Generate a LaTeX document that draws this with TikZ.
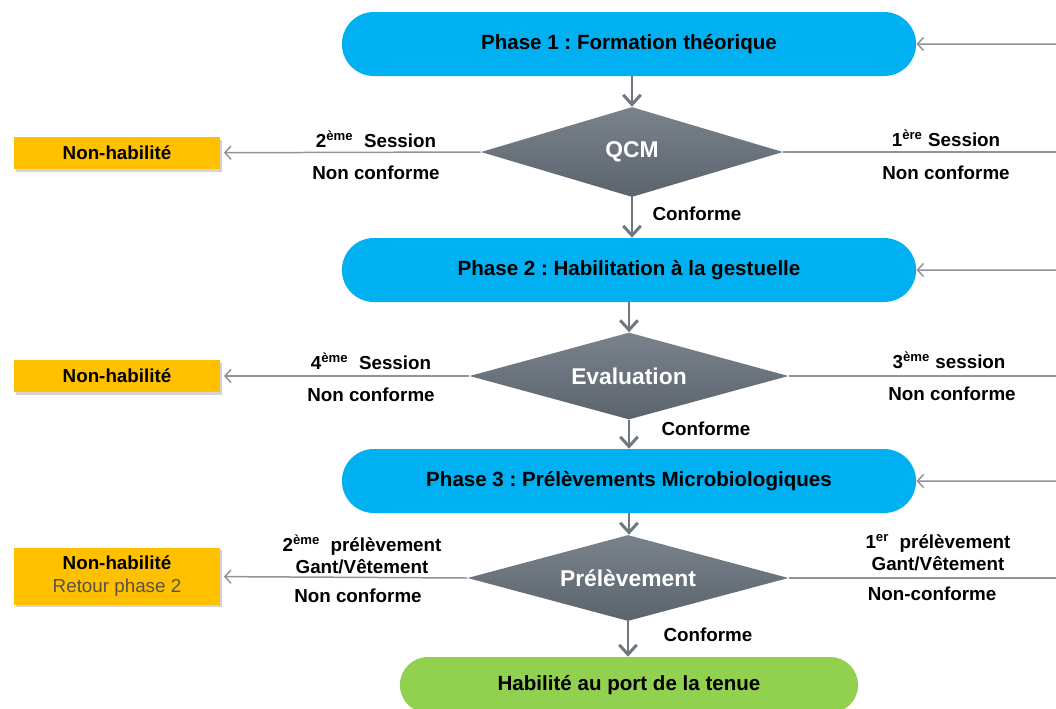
\documentclass[tikz,border=0pt]{standalone}
\usepackage{fontspec}
\setmainfont{Liberation Sans}
\frenchspacing
\usetikzlibrary{shapes.geometric,shapes.misc,arrows.meta,shadows}
\definecolor{phaseblue}{HTML}{00B0F0}
\definecolor{okgreen}{HTML}{92D050}
\definecolor{failorange}{HTML}{FFC000}
\definecolor{diamtop}{HTML}{7A828B}
\definecolor{diambot}{HTML}{5B636C}
\definecolor{arrowgray}{HTML}{6E7883}
\definecolor{linegray}{HTML}{8E949A}
\definecolor{retourgray}{HTML}{5A5242}
\begin{document}
\begin{tikzpicture}[x=0.02cm,y=-0.02cm,
    phasebox/.style={rounded rectangle,fill=phaseblue,minimum width=11.72cm,minimum height=1.28cm,
        font=\fontsize{11.7}{14}\selectfont\bfseries},
    endbox/.style={rounded rectangle,fill=okgreen,minimum width=9.4cm,minimum height=1.12cm,
        font=\fontsize{11.7}{14}\selectfont\bfseries},
    decision/.style={diamond,aspect=3.6,inner sep=0pt,top color=diamtop,bottom color=diambot,text=white,
        font=\fontsize{13}{15}\selectfont\bfseries},
    failbox/.style={rectangle,fill=failorange,minimum width=4.12cm,minimum height=0.64cm,align=center,
        drop shadow={opacity=0.35,shadow xshift=1pt,shadow yshift=-1.5pt},
        font=\fontsize{10.7}{13}\selectfont\bfseries},
    sidelabel/.style={align=center,inner sep=0pt,font=\fontsize{10.7}{12.5}\selectfont\bfseries},
    flowarrow/.style={arrowgray,line width=1.7pt,-{Straight Barb[length=5.5pt,width=10pt]}},
    sidearrow/.style={linegray,line width=0.85pt,-{Straight Barb[length=3.5pt,width=7.5pt]}},
    sideline/.style={linegray,line width=0.85pt}]
    \clip (0,0) rectangle (1056,708);

    \node[phasebox] (phase1) at (629,44) {Phase 1 : Formation théorique};
    \node[decision,minimum width=6.04cm,minimum height=1.8cm] (qcm) at (632,152) {QCM};
    \node[phasebox] (phase2) at (629,270) {Phase 2 : Habilitation à la gestuelle};
    \node[decision,minimum width=6.38cm,minimum height=1.74cm] (eval) at (629,376) {Evaluation};
    \node[phasebox] (phase3) at (629,481) {Phase 3 : Prélèvements Microbiologiques};
    \node[decision,minimum width=6.42cm,minimum height=1.72cm] (prel) at (628,578) {Prélèvement};
    \node[endbox] (habil) at (629,685) {Habilité au port de la tenue};

    \node[failbox] (fail1) at (117,153) {Non-habilité};
    \node[failbox] (fail2) at (117,376) {Non-habilité};
    \node[failbox,minimum height=1.14cm] (fail3) at (117,576) {Non-habilité\\
        {\mdseries\color{retourgray}Retour phase 2}};

    \coordinate (in1) at (1060,44);
    \coordinate (in2) at (1060,270);
    \coordinate (in3) at (1060,481);
    \coordinate (out1) at (1060,152);
    \coordinate (out2) at (1060,376);
    \coordinate (out3) at (1060,578);

    \draw[flowarrow] (qcm.north |- phase1.south) -- (qcm.north);
    \draw[flowarrow] (qcm.south) -- (qcm.south |- phase2.north);
    \draw[flowarrow] (phase2.south) -- (eval.north);
    \draw[flowarrow] (eval.south) -- (phase3.north);
    \draw[flowarrow] (phase3.south) -- (phase3.south |- prel.north);
    \draw[flowarrow] (prel.south) -- (prel.south |- habil.north);

    \draw[sidearrow] (in1) -- (phase1);
    \draw[sidearrow] (in2) -- (phase2);
    \draw[sidearrow] (in3) -- (phase3);
    \draw[sidearrow,shorten >=2pt] (qcm.west) -- (fail1);
    \draw[sidearrow,shorten >=2pt] (eval.west) -- (fail2);
    \draw[sidearrow,shorten >=2pt] (prel.west) -- (fail3);
    \draw[sideline] (qcm.east) -- (out1);
    \draw[sideline] (eval.east) -- (out2);
    \draw[sideline] (prel.east) -- (out3);

    \node[sidelabel] (s2) at (376,139) {2\textsuperscript{ème}\ \ Session};
    \node[sidelabel] (nc1l) at (376,173) {Non conforme};
    \node[sidelabel] (s1) at (946,138) {1\textsuperscript{ère} Session};
    \node[sidelabel] (nc1r) at (946,173) {Non conforme};
    \node[sidelabel] (ok1) at (697,214) {Conforme};

    \node[sidelabel] (s4) at (371,361) {4\textsuperscript{ème}\ \ Session};
    \node[sidelabel] (nc2l) at (371,395) {Non conforme};
    \node[sidelabel] (s3) at (949,360) {3\textsuperscript{ème} session};
    \node[sidelabel] (nc2r) at (952,394) {Non conforme};
    \node[sidelabel] (ok2) at (706,429) {Conforme};

    \node[sidelabel] (p2) at (362,554) {2\textsuperscript{ème}\ \ prélèvement\\Gant/Vêtement};
    \node[sidelabel] (nc3l) at (358,596) {Non conforme};
    \node[sidelabel] (p1) at (938,553) {1\textsuperscript{er}\ \ prélèvement\\Gant/Vêtement};
    \node[sidelabel] (nc3r) at (932,594) {Non-conforme};
    \node[sidelabel] (ok3) at (708,635) {Conforme};
\end{tikzpicture}
\end{document}
